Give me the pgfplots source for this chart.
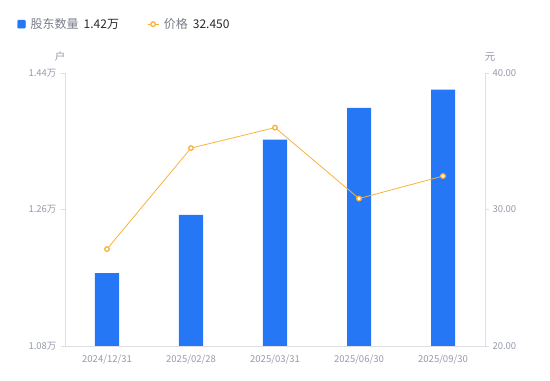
\documentclass[border=0pt]{standalone}
\usepackage{pgfplots}
\pgfplotsset{compat=1.18}
\usepackage{fontspec}
\setmainfont{Noto Sans CJK SC}
\definecolor{barblue}{RGB}{37,119,246}
\definecolor{lineorange}{RGB}{247,178,60}
\definecolor{ticktext}{RGB}{150,154,170}
\definecolor{axisgray}{RGB}{222,222,228}
\definecolor{legtext}{RGB}{120,124,135}
\definecolor{darktext}{RGB}{40,40,45}
\begin{document}
\begin{tikzpicture}
\useasboundingbox (-65bp,-35bp) rectangle (485bp,346bp);
\pgfplotsset{
  every axis/.append style={
    scale only axis, width=420bp, height=273bp,
    xmin=-0.5, xmax=4.5,
    axis line style={draw=axisgray, line width=0.8bp},
    tick style={draw=axisgray, line width=0.8bp},
    tick align=outside, major tick length=4bp,
    ticklabel style={font=\fontsize{9.5bp}{11bp}\selectfont, text=ticktext},
  }
}
\begin{axis}[name=ax1,
  axis x line*=bottom, axis y line*=left,
  ymin=1.08, ymax=1.44,
  ytick={1.08,1.26,1.44}, yticklabels={1.08万,1.26万,1.44万},
  xtick={0,1,2,3,4},
  xticklabels={2024/12/31,2025/02/28,2025/03/31,2025/06/30,2025/09/30},
  x tick style={draw=none},
  xticklabel style={yshift=-1bp},
  yticklabel style={xshift=-1bp},
  ybar, bar width=24bp,
]
\addplot[fill=barblue, draw=none] coordinates {(0,1.176) (1,1.253) (2,1.352) (3,1.394) (4,1.418)};
\end{axis}
\begin{axis}[name=ax2,
  axis x line=none, axis y line*=right,
  ymin=20, ymax=40,
  ytick={20,30,40}, yticklabels={20.00,30.00,40.00},
  yticklabel style={xshift=0bp},
  legend columns=2,
  legend style={at={(-0.114,1.179)}, anchor=west, draw=none, fill=none,
    font=\fontsize{12bp}{14bp}\selectfont, text=legtext,
    /tikz/every even column/.append style={column sep=26bp},
    inner sep=0pt, cells={anchor=west}},
]
\addlegendimage{legend image code/.code={\fill[barblue, rounded corners=1bp] (0bp,-4bp) rectangle (8bp,4bp); \path (11bp,0bp);}}
\addlegendentry{股东数量\hspace{5bp}\textcolor{darktext}{1.42万}}
\addplot[color=lineorange, line width=0.8bp, mark=*, mark size=2.3bp,
  mark options={fill=white, draw=lineorange, line width=1.3bp},
  legend image code/.code={\draw[lineorange, line width=1bp] (0bp,0bp) -- (11bp,0bp); \draw[lineorange, fill=white, line width=1.3bp] (5.5bp,0bp) circle (2.3bp); \path (14bp,0bp);}]
  coordinates {(0,27.1) (1,34.5) (2,36.0) (3,30.8) (4,32.45)};
\addlegendentry{价格\hspace{5bp}\textcolor{darktext}{32.450}}
\end{axis}
\node[text=ticktext, font=\fontsize{10.5bp}{12bp}\selectfont] at ([shift={(-5bp,16bp)}]ax1.north west) {户};
\node[text=ticktext, font=\fontsize{10.5bp}{12bp}\selectfont] at ([shift={(5bp,16bp)}]ax2.north east) {元};
\end{tikzpicture}
\end{document}
